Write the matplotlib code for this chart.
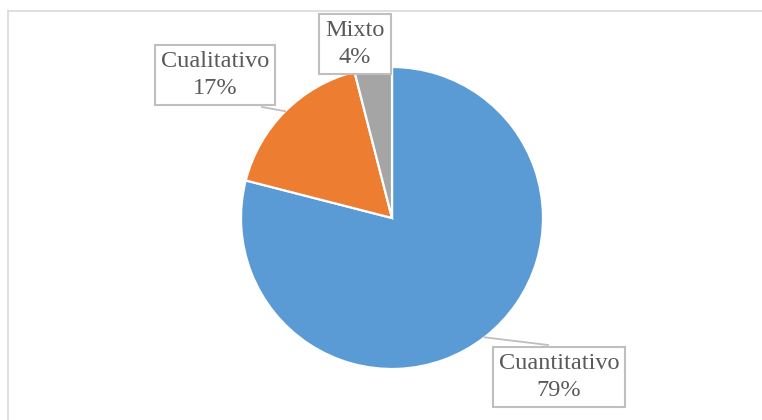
import numpy as np
import matplotlib
matplotlib.use("Agg")
import matplotlib.pyplot as plt
from matplotlib.lines import Line2D

categories = ["Cuantitativo", "Cualitativo", "Mixto"]
values = [79, 17, 4]
colors = ["#5B9BD5", "#ED7D31", "#A5A5A5"]

W, H = 762, 420
fig = plt.figure(figsize=(W / 100, H / 100), dpi=100)
ax = fig.add_axes([0, 0, 1, 1])

cx, cy, R = 392, H - 218, 151
wedges, _ = ax.pie(values, colors=colors, startangle=90, counterclock=False,
                   center=(cx, cy), radius=R,
                   wedgeprops=dict(edgecolor="white", linewidth=1.6))
ax.set_xlim(0, W)
ax.set_ylim(0, H)
ax.set_aspect("equal")
ax.axis("off")

# chart frame
fig.add_artist(Line2D([8 / W, 8 / W], [0, 1 - 11 / H], color="#d9d9d9", lw=1.2))
fig.add_artist(Line2D([8 / W, 1], [1 - 11 / H, 1 - 11 / H], color="#d9d9d9", lw=1.2))

font = dict(family="Liberation Serif", size=17.5, color="#595959")
label_pos = [(559, 377), (215, 75), (355, 44)]
leader_end = [(548, 345), (262, 107), None]

total = sum(values)
for w, cat, v, (lx, ly), le in zip(wedges, categories, values, label_pos, leader_end):
    if le is not None:
        mid = np.deg2rad((w.theta1 + w.theta2) / 2)
        px, py = cx + R * np.cos(mid), cy + R * np.sin(mid)
        ax.plot([px, le[0]], [py, H - le[1]], color="#bfbfbf", lw=1.3, zorder=3)
    ax.text(lx, H - ly, f"{cat}\n{round(100 * v / total)}%", ha="center", va="center",
            linespacing=1.4, zorder=4,
            bbox=dict(boxstyle="square,pad=0.25", fc="white", ec="#bfbfbf", lw=1.5),
            **font)

fig.savefig("out.png", dpi=100)
